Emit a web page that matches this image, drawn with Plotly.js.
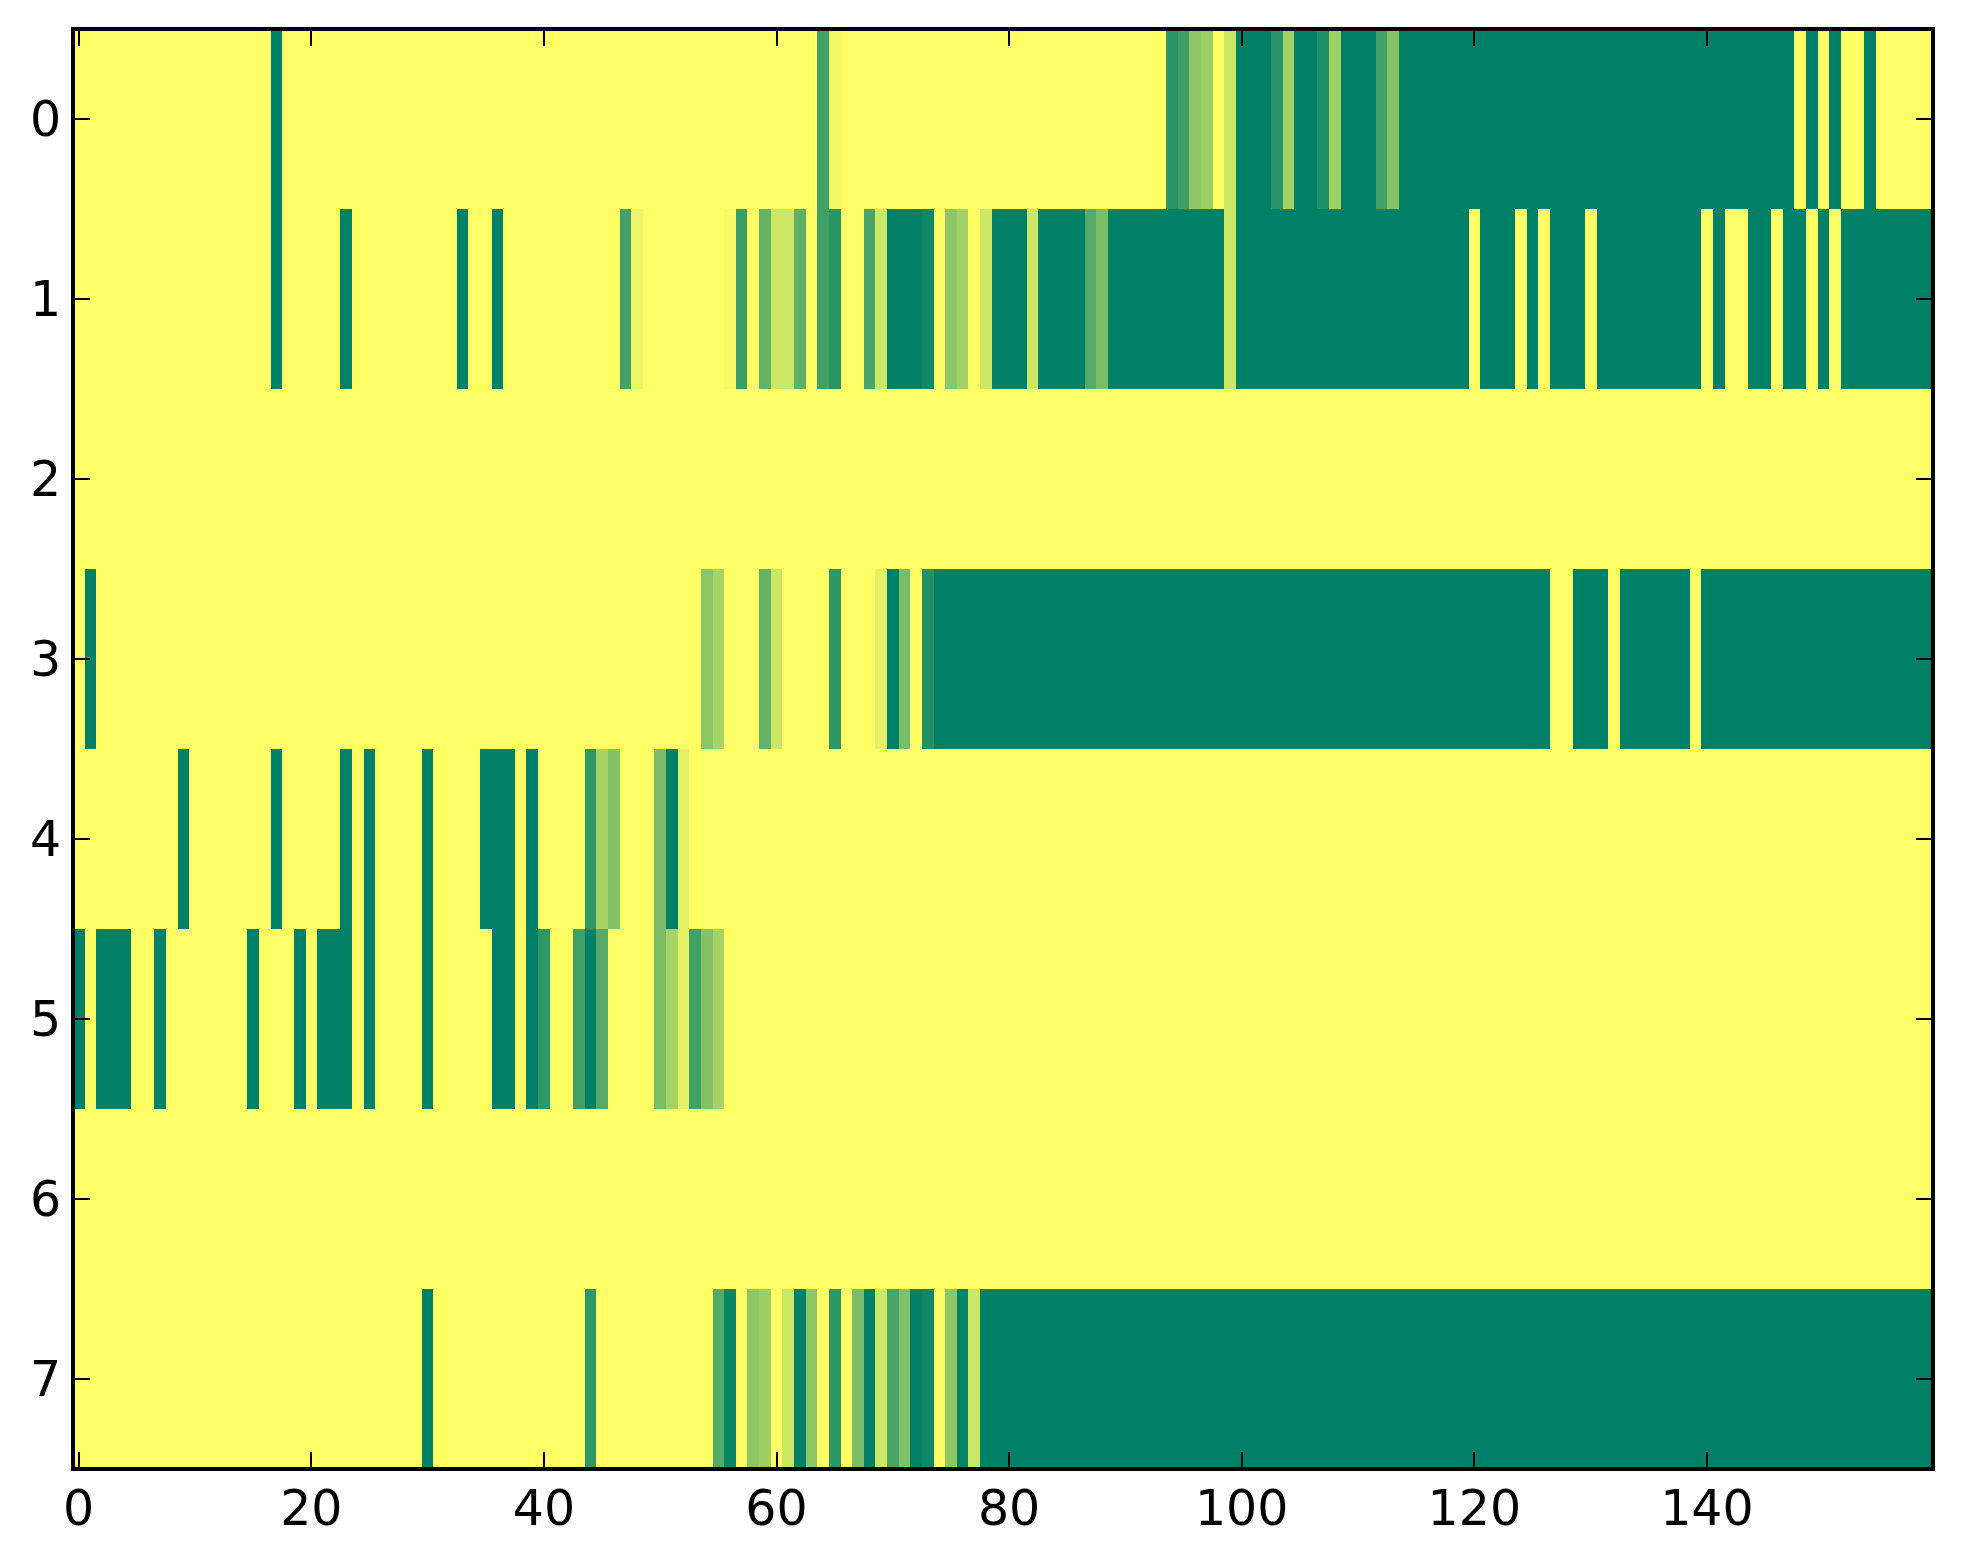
<!DOCTYPE html>
<html>
<head>
<meta charset="utf-8">
<script src="https://cdn.plot.ly/plotly-3.0.1.min.js"></script>
<style>html,body{margin:0;padding:0;background:#fff}#chart{width:1963px;height:1564px}</style>
</head>
<body>
<div id="chart"></div>
<script>
const columns = [
0,1,2,3,4,5,6,7,8,9,10,11,12,13,14,15,16,17,18,19,
20,21,22,23,24,25,26,27,28,29,30,31,32,33,34,35,36,37,38,39,
40,41,42,43,44,45,46,47,48,49,50,51,52,53,54,55,56,57,58,59,
60,61,62,63,64,65,66,67,68,69,70,71,72,73,74,75,76,77,78,79,
80,81,82,83,84,85,86,87,88,89,90,91,92,93,94,95,96,97,98,99,
100,101,102,103,104,105,106,107,108,109,110,111,112,113,114,115,116,117,118,119,
120,121,122,123,124,125,126,127,128,129,130,131,132,133,134,135,136,137,138,139,
140,141,142,143,144,145,146,147,148,149,150,151,152,153,154,155,156,157,158,159];
const rows = [0,1,2,3,4,5,6,7];
const xTicks = [0,20,40,60,80,100,120,140];

const row0 = [
0,0,0,0,0,0,0,0,0,0, 0,0,0,0,0,0,0,1,0,0,
0,0,0,0,0,0,0,0,0,0, 0,0,0,0,0,0,0,0,0,0,
0,0,0,0,0,0,0,0,0,0, 0,0,0,0,0,0,0,0,0,0,
0,0,0,0,.75,.05,0,0,0,0, 0,0,0,0,0,0,0,0,0,0,
0,0,0,0,0,0,0,0,0,0, 0,0,0,0,.835,.76,.44,.385,0,.2,
1,1,1,.84,.36,1,1,.88,.37,1, 1,1,.75,.47,1,1,1,1,1,1,
1,1,1,1,1,1,1,1,1,1, 1,1,1,1,1,1,1,1,1,1,
1,1,1,1,1,1,1,1,0,1, 0,1,0,0,1,0,0,0,0,0];
const row1 = [
0,0,0,0,0,0,0,0,0,0, 0,0,0,0,0,0,0,1,0,0,
0,0,0,1,0,0,0,0,0,0, 0,0,0,1,0,0,1,0,0,0,
0,0,0,0,0,0,0,.73,.07,0, 0,0,0,0,0,0,.04,.77,0,.6,
.2,.2,.62,0,.75,.84,0,0,.71,.2, 1,1,1,.94,0,.44,.36,0,.2,1,
1,1,.2,1,1,1,1,.67,.52,1, 1,1,1,1,1,1,1,1,1,.2,
1,1,1,1,1,1,1,1,1,1, 1,1,1,1,1,1,1,1,1,1,
0,1,1,1,0,1,0,1,1,1, 0,1,1,1,1,1,1,1,1,1,
0,1,0,0,1,1,0,1,1,0, 1,0,1,1,1,1,1,1,1,1];
const row2 = [
0,0,0,0,0,0,0,0,0,0, 0,0,0,0,0,0,0,0,0,0,
0,0,0,0,0,0,0,0,0,0, 0,0,0,0,0,0,0,0,0,0,
0,0,0,0,0,0,0,0,0,0, 0,0,0,0,0,0,0,0,0,0,
0,0,0,0,0,0,0,0,0,0, 0,0,0,0,0,0,0,0,0,0,
0,0,0,0,0,0,0,0,0,0, 0,0,0,0,0,0,0,0,0,0,
0,0,0,0,0,0,0,0,0,0, 0,0,0,0,0,0,0,0,0,0,
0,0,0,0,0,0,0,0,0,0, 0,0,0,0,0,0,0,0,0,0,
0,0,0,0,0,0,0,0,0,0, 0,0,0,0,0,0,0,0,0,0];
const row3 = [
0,1,0,0,0,0,0,0,0,0, 0,0,0,0,0,0,0,0,0,0,
0,0,0,0,0,0,0,0,0,0, 0,0,0,0,0,0,0,0,0,0,
0,0,0,0,0,0,0,0,0,0, 0,0,0,0,.45,.35,0,0,0,.6,
.2,0,0,0,0,.82,0,0,0,.1, 1,.52,0,.87,1,1,1,1,1,1,
1,1,1,1,1,1,1,1,1,1, 1,1,1,1,1,1,1,1,1,1,
1,1,1,1,1,1,1,1,1,1, 1,1,1,1,1,1,1,1,1,1,
1,1,1,1,1,1,1,0,0,1, 1,1,0,1,1,1,1,1,1,0,
1,1,1,1,1,1,1,1,1,1, 1,1,1,1,1,1,1,1,1,1];
const row4 = [
0,0,0,0,0,0,0,0,0,1, 0,0,0,0,0,0,0,1,0,0,
0,0,0,1,0,1,0,0,0,0, 1,0,0,0,0,1,1,1,0,1,
0,0,0,0,.82,.35,.47,0,0,0, .52,1,.11,0,0,0,0,0,0,0,
0,0,0,0,0,0,0,0,0,0, 0,0,0,0,0,0,0,0,0,0,
0,0,0,0,0,0,0,0,0,0, 0,0,0,0,0,0,0,0,0,0,
0,0,0,0,0,0,0,0,0,0, 0,0,0,0,0,0,0,0,0,0,
0,0,0,0,0,0,0,0,0,0, 0,0,0,0,0,0,0,0,0,0,
0,0,0,0,0,0,0,0,0,0, 0,0,0,0,0,0,0,0,0,0];
const row5 = [
1,0,1,1,1,0,0,1,0,0, 0,0,0,0,0,1,0,0,0,1,
0,1,1,1,0,1,0,0,0,0, 1,0,0,0,0,0,1,1,0,1,
.82,0,0,.75,1,.67,0,0,0,0, .52,.35,.1,.75,.47,.35,0,0,0,0,
0,0,0,0,0,0,0,0,0,0, 0,0,0,0,0,0,0,0,0,0,
0,0,0,0,0,0,0,0,0,0, 0,0,0,0,0,0,0,0,0,0,
0,0,0,0,0,0,0,0,0,0, 0,0,0,0,0,0,0,0,0,0,
0,0,0,0,0,0,0,0,0,0, 0,0,0,0,0,0,0,0,0,0,
0,0,0,0,0,0,0,0,0,0, 0,0,0,0,0,0,0,0,0,0];
const row6 = [
0,0,0,0,0,0,0,0,0,0, 0,0,0,0,0,0,0,0,0,0,
0,0,0,0,0,0,0,0,0,0, 0,0,0,0,0,0,0,0,0,0,
0,0,0,0,0,0,0,0,0,0, 0,0,0,0,0,0,0,0,0,0,
0,0,0,0,0,0,0,0,0,0, 0,0,0,0,0,0,0,0,0,0,
0,0,0,0,0,0,0,0,0,0, 0,0,0,0,0,0,0,0,0,0,
0,0,0,0,0,0,0,0,0,0, 0,0,0,0,0,0,0,0,0,0,
0,0,0,0,0,0,0,0,0,0, 0,0,0,0,0,0,0,0,0,0,
0,0,0,0,0,0,0,0,0,0, 0,0,0,0,0,0,0,0,0,0];
const row7 = [
0,0,0,0,0,0,0,0,0,0, 0,0,0,0,0,0,0,0,0,0,
0,0,0,0,0,0,0,0,0,0, 1,0,0,0,0,0,0,0,0,0,
0,0,0,0,.82,0,0,0,0,0, 0,0,0,0,0,.67,.96,0,.44,.385,
0,.2,1,.44,0,.82,0,.52,1,.2, .71,.5,1,.94,0,.44,.98,.2,1,1,
1,1,1,1,1,1,1,1,1,1, 1,1,1,1,1,1,1,1,1,1,
1,1,1,1,1,1,1,1,1,1, 1,1,1,1,1,1,1,1,1,1,
1,1,1,1,1,1,1,1,1,1, 1,1,1,1,1,1,1,1,1,1,
1,1,1,1,1,1,1,1,1,1, 1,1,1,1,1,1,1,1,1,1];

const tickFont = {family: '"DejaVu Sans", sans-serif', size: 49, color: '#000'};
const axisCommon = {
  showgrid: false, zeroline: false, showline: true, linecolor: '#000', linewidth: 4,
  mirror: 'allticks', ticks: 'inside', ticklen: 15, tickwidth: 2, tickcolor: '#000',
  tickfont: tickFont, tickmode: 'array', autorange: false
};
Plotly.newPlot('chart', [{
  type: 'heatmap',
  x: columns, y: rows,
  z: [row0, row1, row2, row3, row4, row5, row6, row7],
  zmin: 0, zmax: 1, zsmooth: false, showscale: false,
  colorscale: [[0, '#ffff66'], [1, '#008066']],
  hoverinfo: 'skip'
}], {
  width: 1963, height: 1564,
  margin: {l: 75, r: 32, t: 31, b: 97, pad: 0},
  paper_bgcolor: '#fff', plot_bgcolor: '#fff',
  xaxis: Object.assign({}, axisCommon, {
    range: [-0.318, 159.269], tickvals: xTicks, ticktext: xTicks.map(String),
    ticklabelstandoff: -5
  }),
  yaxis: Object.assign({}, axisCommon, {
    range: [7.489, -0.489], tickvals: rows, ticktext: rows.map(String)
  })
}, {displayModeBar: false, staticPlot: true});
</script>
</body>
</html>
